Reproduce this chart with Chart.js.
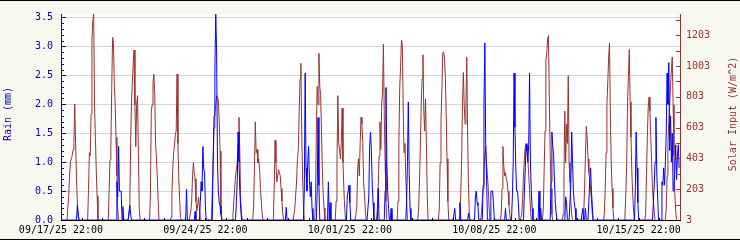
<!DOCTYPE html>
<html>
<head>
<meta charset="utf-8">
<script src="https://cdn.jsdelivr.net/npm/chart.js@4.4.1/dist/chart.umd.min.js"></script>
<style>
  html, body { margin: 0; padding: 0; background: #f8f8f0; }
  #wrap { width: 740px; height: 240px; position: relative; }
</style>
</head>
<body>
<div id="wrap"><canvas id="chart" width="740" height="240"></canvas></div>
<script>
// x axis: hours since 09/17/25 22:00, one label a week
const tickHours = [0, 168, 336, 504, 672];
const tickLabels = ['09/17/25 22:00', '09/24/25 22:00', '10/01/25 22:00', '10/08/25 22:00', '10/15/25 22:00'];
const rainTickLabels = ['0.0', '0.5', '1.0', '1.5', '2.0', '2.5', '3.0', '3.5'];
const solarTickLabels = ['3', '203', '403', '603', '803', '1003', '1203'];

// solar input W/m^2, one row per day, hourly from 22:00
const solarByDay = [
  [0,0,0,0,0,0,0,0,0,170,300,380,400,420,460,500,756,500,280,120,30,0,0,0],
  [0,0,0,0,0,0,0,0,200,440,420,690,1170,1290,1340,750,540,330,160,0,0,0,0,0],
  [0,0,0,0,0,0,0,0,206,394,480,856,1190,1150,894,750,540,290,80,0,0,0,0,0],
  [0,0,0,0,0,0,0,0,80,500,770,894,1020,1106,750,480,750,810,440,80,0,0,0,0],
  [0,0,0,0,0,0,0,0,170,700,750,894,950,830,500,400,290,130,0,0,0,0,0,0],
  [0,0,0,0,0,0,0,0,20,170,330,440,480,560,580,950,500,270,130,20,0,0,0,0],
  [0,0,0,0,0,0,0,60,125,290,375,310,270,125,60,100,150,80,20,0,0,0,0,0],
  [0,0,0,0,0,0,0,0,200,400,600,700,750,810,800,780,650,450,100,0,0,0,0,0],
  [0,0,0,0,0,0,0,0,30,125,206,290,330,375,500,670,440,125,40,0,0,0,0,0],
  [0,0,0,0,0,0,0,0,80,330,640,440,460,375,400,330,206,125,40,0,0,0,0,0],
  [0,0,0,0,0,0,0,0,206,520,375,250,290,330,310,290,206,125,40,0,0,0,0,0],
  [0,0,0,0,0,0,0,0,80,170,250,400,460,690,920,1020,580,290,100,0,0,0,0,0],
  [0,0,0,0,0,0,0,0,125,560,870,750,1085,875,810,580,330,170,80,0,0,0,0,0],
  [0,0,0,0,0,0,0,0,125,375,810,500,460,400,500,730,375,206,80,0,0,0,0,0],
  [0,0,0,0,0,0,0,0,80,330,400,290,500,670,625,500,250,170,60,0,0,0,0,0],
  [0,0,0,0,0,0,0,0,80,230,420,640,460,750,830,1144,690,375,125,0,0,0,0,0],
  [0,0,0,0,0,0,0,0,125,500,860,1000,1170,1150,750,440,500,290,125,0,0,0,0,0],
  [0,0,0,0,0,0,0,0,80,250,500,750,920,1075,710,580,790,500,170,0,0,0,0,0],
  [0,0,0,0,0,0,0,0,80,375,650,830,1085,1094,1060,940,710,400,125,0,0,0,0,0],
  [0,0,0,0,0,0,0,0,40,170,400,750,960,750,625,750,1060,540,206,40,0,0,0,0],
  [0,0,0,0,0,0,0,0,0,40,125,206,330,420,480,375,290,206,80,0,0,0,0,0],
  [0,0,0,0,0,0,0,0,40,206,480,355,290,310,270,250,190,100,40,0,0,0,0,0],
  [0,0,0,0,0,0,0,0,40,150,300,400,480,500,450,400,300,200,80,0,0,0,0,0],
  [0,0,0,0,0,0,0,0,0,80,330,580,1040,1080,1175,1200,790,440,206,40,0,0,0,0],
  [0,0,0,0,0,0,0,0,40,290,710,375,625,500,940,375,250,125,40,0,0,0,0,0],
  [0,0,0,0,0,0,0,0,40,206,420,610,540,400,310,270,206,125,40,0,0,0,0,0],
  [0,0,0,0,0,0,0,0,40,206,440,750,900,1060,1150,690,375,206,80,0,0,0,0,0],
  [0,0,0,0,0,0,0,0,40,170,375,770,940,1110,770,540,310,170,60,0,0,0,0,0],
  [0,0,0,0,0,0,0,0,40,290,540,730,800,710,540,375,206,125,60,0,0,0,0,0],
  [0,0,0,0,0,0,0,0,80,290,500,650,750,875,980,1060,750,420,170,60,0,0,0,0]
];

// rain mm, only the hours where it rained
const rainHours = [19,20, 65,66,67,68,69,70,72, 80,81, 146, 156,
  162,163,164,165,166,167,168, 177,178,179,180,181,182,183,184,185,186,
  204,205,206,207,208,209, 262, 283,284,285,286,287,288,289,290,291,292,
  298,299,300, 311,313, 333,334,335,336, 358,359,360,361,362,363, 369,
  377,378,379,380,381, 384, 402,403,404,405,406, 458, 464, 474,
  482,483,484,485, 491,492,493,494,495, 500,501,502,503, 517,
  525,526,527,528,529,530,531,532, 539,540,541,542,543,544,545,546,547,548,
  556,558, 570,571,572,573,574,575,576, 587,588, 593,594,595,596,597,598,
  607,610, 615,616,617,618, 668,669,670,671, 689,690,691,692,693,694,
  699,700,701,702,703,704,705,706,707,708,709,710,711,712,
  713,714,715,716,717,718,719];
const rainMm = [0.25,0.1, 0.66,0.4,1.27,0.5,0.5,0.5,0.23, 0.25,0.1, 0.53, 0.15,
  0.3,0.66,0.5,1.27,0.9,0.8,0.2, 1.0,1.8,2.6,3.56,2.9,1.0,0.5,0.3,0.25,0.1,
  0.3,0.7,1.52,1.0,0.5,0.2, 0.22, 0.5,2.54,0.9,0.5,1.0,1.27,0.66,0.4,0.66,0.2,
  0.5,1.77,0.6, 0.66,0.3, 0.4,0.5,0.6,0.3, 0.4,1.27,1.52,1.2,0.6,0.3, 0.55,
  0.5,2.29,1.0,0.5,0.2, 0.2, 0.3,1.0,2.04,0.8,0.2, 0.2, 0.3, 0.12,
  0.4,0.5,0.3,0.25, 0.6,2.0,3.06,1.3,0.7, 0.5,0.5,0.5,0.3, 0.2,
  0.4,1.0,2.54,1.6,0.9,0.5,0.5,0.3, 0.5,0.9,1.3,1.2,1.0,1.3,2.54,1.0,0.5,0.2,
  0.5,0.2, 0.66,1.52,1.27,1.15,0.66,0.3,0.12, 0.4,0.3, 0.6,1.52,1.0,0.5,0.3,0.2,
  0.2,0.2, 0.66,0.9,0.5,0.25, 0.5,1.52,0.9,0.3, 0.3,0.6,1.0,1.77,0.8,0.4,
  0.66,0.6,0.9,0.6,1.0,1.5,2.54,2.0,2.72,1.2,1.8,1.0,1.5,0.5,
  0.6,0.9,1.3,0.7,1.1,1.3,0.9];

const RAIN_COLOR = '#0000ff';
const SOLAR_COLOR = '#993333';
const RAIN_AXIS = '#0000b0';
const FONT = { family: 'DejaVu Sans Mono', size: 10 };

const solarPoints = [];
solarByDay.forEach((row, d) => row.forEach((v, h) => solarPoints.push({ x: d * 24 + h, y: v })));

const hours = solarPoints.map(p => p.x);
const rainPoints = hours.map(h => {
  const i = rainHours.indexOf(h);
  return { x: h, y: i < 0 ? 0 : rainMm[i] };
});

// inward tick marks, axis lines and rotated titles
const frame = {
  id: 'frame',
  afterDatasetsDraw(chart) {
    const { ctx, chartArea: a, scales } = chart;
    ctx.save();
    ctx.lineWidth = 1;

    ctx.strokeStyle = RAIN_AXIS;
    ctx.beginPath();
    for (let k = 0; k <= 35; k++) {
      const y = Math.round(scales.yRain.getPixelForValue(k / 10)) + 0.5;
      ctx.moveTo(a.left, y);
      ctx.lineTo(a.left + (k % 5 === 0 ? 5 : 3), y);
    }
    ctx.moveTo(a.left + 0.5, a.top);
    ctx.lineTo(a.left + 0.5, a.bottom);
    ctx.stroke();

    ctx.strokeStyle = SOLAR_COLOR;
    ctx.beginPath();
    for (let v = 3; v <= scales.ySolar.max; v += 100) {
      const y = Math.round(scales.ySolar.getPixelForValue(v)) + 0.5;
      ctx.moveTo(a.right, y);
      ctx.lineTo(a.right - 4, y);
    }
    ctx.moveTo(a.right + 0.5, a.top);
    ctx.lineTo(a.right + 0.5, a.bottom);
    ctx.stroke();

    ctx.strokeStyle = '#000';
    ctx.beginPath();
    ctx.moveTo(a.left, a.bottom + 0.5);
    ctx.lineTo(a.right + 1, a.bottom + 0.5);
    for (let h = 24; h < 720; h += 24) {
      const x = Math.round(scales.x.getPixelForValue(h)) + 0.5;
      ctx.moveTo(x, a.bottom);
      ctx.lineTo(x, a.bottom - 2);
    }
    ctx.stroke();

    ctx.font = '10px "DejaVu Sans Mono"';
    ctx.textAlign = 'center';
    ctx.textBaseline = 'middle';
    ctx.fillStyle = RAIN_AXIS;
    ctx.translate(8, 114);
    ctx.rotate(-Math.PI / 2);
    ctx.fillText('Rain (mm)', 0, 0);
    ctx.setTransform(1, 0, 0, 1, 0, 0);
    ctx.fillStyle = SOLAR_COLOR;
    ctx.translate(733, 114);
    ctx.rotate(-Math.PI / 2);
    ctx.fillText('Solar Input (W/m^2)', 0, 0);
    ctx.setTransform(1, 0, 0, 1, 0, 0);

    ctx.fillStyle = '#000';
    ctx.fillRect(0, 0, 740, 1);
    ctx.fillRect(0, 239, 740, 1);
    ctx.restore();
  }
};

const plotBg = {
  id: 'plotBg',
  beforeDraw(chart) {
    const { ctx, chartArea: a } = chart;
    ctx.save();
    ctx.fillStyle = '#ffffff';
    ctx.fillRect(a.left, a.top, a.right - a.left, a.bottom - a.top);
    ctx.restore();
  }
};

new Chart(document.getElementById('chart'), {
  type: 'line',
  data: {
    datasets: [
      {
        label: 'Rain',
        data: rainPoints,
        yAxisID: 'yRain',
        borderColor: RAIN_COLOR,
        borderWidth: 1,
        pointRadius: 0,
        tension: 0,
        fill: false
      },
      {
        label: 'Solar Input',
        data: solarPoints,
        yAxisID: 'ySolar',
        borderColor: SOLAR_COLOR,
        borderWidth: 1,
        pointRadius: 0,
        tension: 0,
        fill: false
      }
    ]
  },
  options: {
    responsive: false,
    animation: false,
    devicePixelRatio: 1,
    layout: { padding: { top: 5, left: 0, right: 0, bottom: 0 } },
    plugins: { legend: { display: false }, tooltip: { enabled: false } },
    scales: {
      x: {
        type: 'linear',
        min: 0,
        max: 720,
        afterBuildTicks: s => { s.ticks = tickHours.map(v => ({ value: v })); },
        afterFit: s => { s.height = 20; },
        ticks: {
          autoSkip: false,
          maxRotation: 0,
          padding: 4,
          color: '#000',
          font: FONT,
          callback: (v, i) => tickLabels[i]
        },
        grid: { display: false, drawTicks: false },
        border: { display: false }
      },
      yRain: {
        position: 'left',
        min: 0,
        max: 3.56,
        afterBuildTicks: s => {
          const t = [];
          for (let k = 0; k <= 35; k++) t.push({ value: k / 10 });
          s.ticks = t;
        },
        afterFit: s => { s.width = 61; },
        ticks: {
          autoSkip: false,
          padding: 8,
          color: RAIN_AXIS,
          font: FONT,
          callback: (v, i) => (i % 5 === 0 ? rainTickLabels[i / 5] : '')
        },
        grid: {
          drawTicks: false,
          lineWidth: 1,
          color: c => (c.index % 5 === 0 ? '#d4d4d4' : 'rgba(0,0,0,0)')
        },
        border: { display: false }
      },
      ySolar: {
        position: 'right',
        min: 3,
        max: 1340,
        afterBuildTicks: s => { s.ticks = solarTickLabels.map(l => ({ value: Number(l) })); },
        afterFit: s => { s.width = 60; },
        ticks: {
          autoSkip: false,
          padding: 6,
          color: SOLAR_COLOR,
          font: FONT,
          callback: (v, i) => solarTickLabels[i]
        },
        grid: { display: false, drawTicks: false },
        border: { display: false }
      }
    }
  },
  plugins: [plotBg, frame]
});
</script>
</body>
</html>
